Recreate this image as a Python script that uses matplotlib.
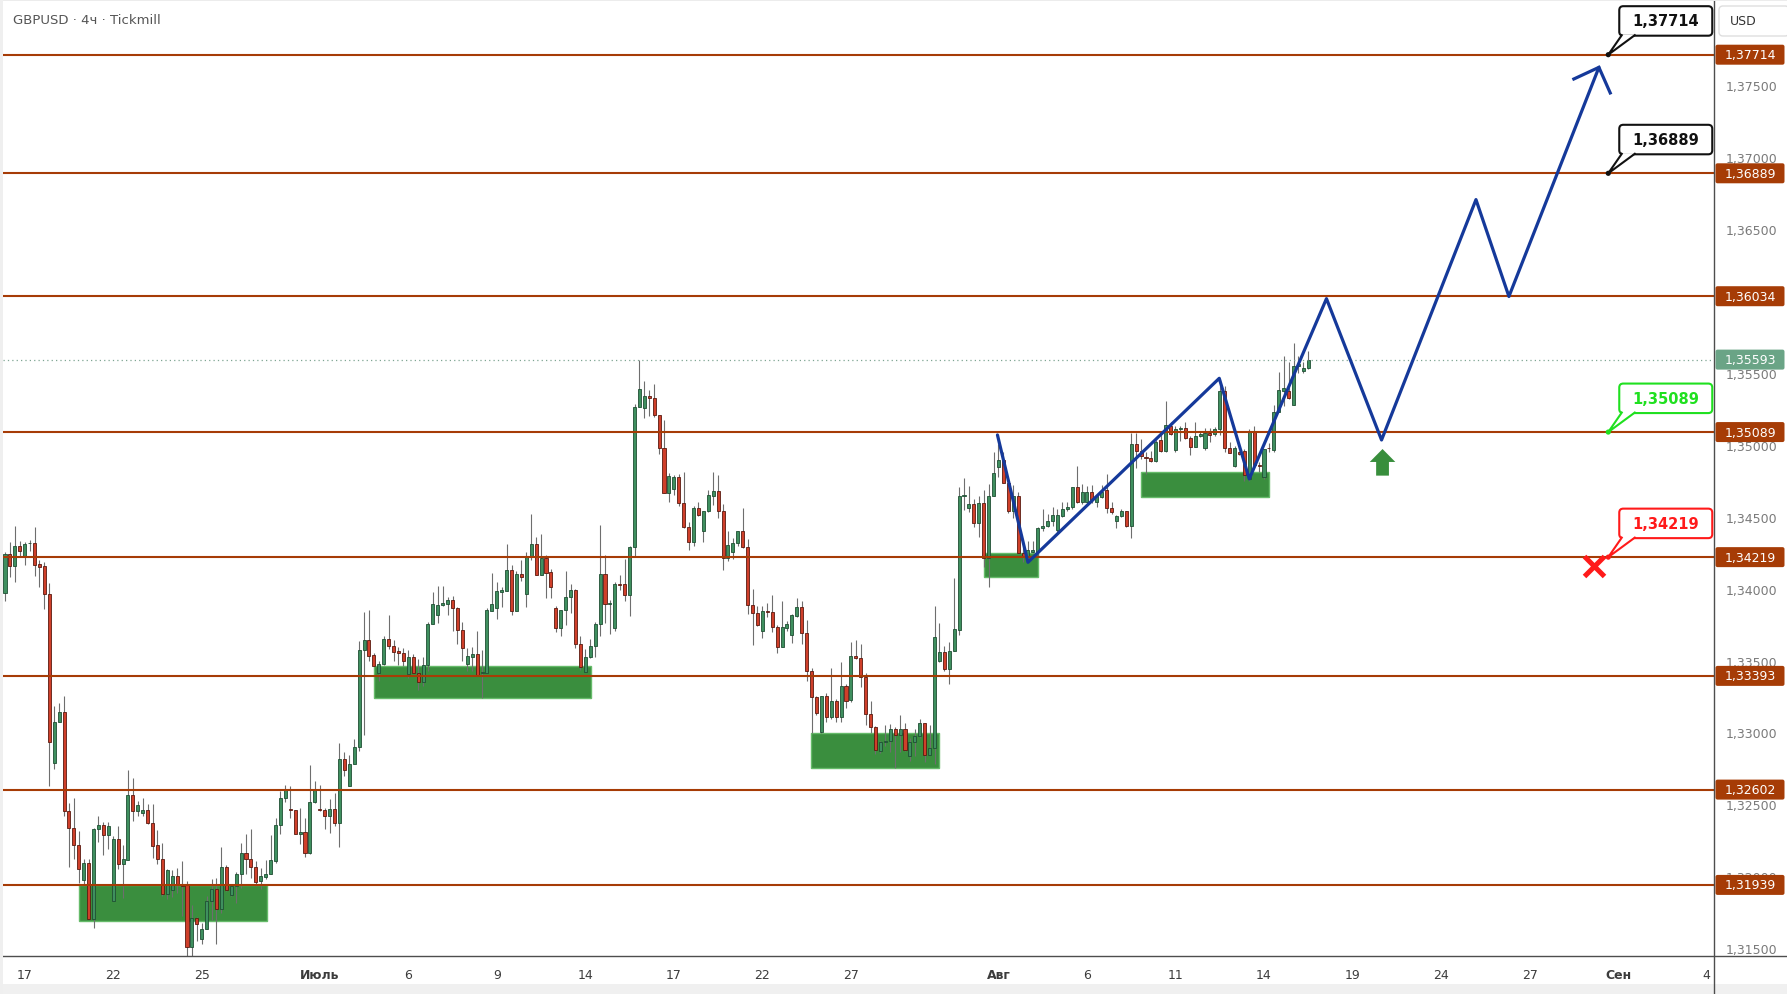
import matplotlib
matplotlib.use('Agg')
import matplotlib.pyplot as plt
from matplotlib.patches import Rectangle, FancyBboxPatch, Polygon, Circle
from matplotlib.transforms import IdentityTransform
from matplotlib.lines import Line2D

TITLE = 'GBPUSD · 4ч · Tickmill'

OPEN = [1.33973, 1.34240, 1.34159, 1.34294, 1.34224, 1.34314, 1.34317, 1.34171, 1.34154, 1.33966,
        1.32790, 1.33069, 1.33145, 1.32454, 1.32338, 1.32220, 1.31976, 1.32094, 1.31704, 1.32331,
        1.32359, 1.32289, 1.31830, 1.32257, 1.32087, 1.32115, 1.32563, 1.32456, 1.32442, 1.32458,
        1.32373, 1.32215, 1.32122, 1.31878, 1.31902, 1.31999, 1.31939, 1.31936, 1.31510, 1.31711,
        1.31561, 1.31635, 1.31830, 1.31913, 1.31774, 1.32066, 1.31867, 1.31932, 1.32018, 1.32164,
        1.32117, 1.32064, 1.31967, 1.31994, 1.32013, 1.32106, 1.32354, 1.32547, 1.32468, 1.32458,
        1.32296, 1.32310, 1.32164, 1.32519, 1.32468, 1.32463, 1.32421, 1.32470, 1.32373, 1.32818,
        1.32628, 1.32779, 1.32895, 1.33572, 1.33646, 1.33537, 1.33410, 1.33479, 1.33653, 1.33602,
        1.33563, 1.33549, 1.33405, 1.33521, 1.33414, 1.33347, 1.33472, 1.33751, 1.33818, 1.33883,
        1.33895, 1.33918, 1.33862, 1.33714, 1.33477, 1.33526, 1.33542, 1.33410, 1.33414, 1.33846,
        1.33862, 1.33978, 1.33985, 1.34129, 1.33846, 1.34099, 1.33964, 1.34224, 1.34310, 1.34096,
        1.34210, 1.34113, 1.33862, 1.33728, 1.33848, 1.33939, 1.33990, 1.33618, 1.33417, 1.33521,
        1.33598, 1.33751, 1.34099, 1.33892, 1.33723, 1.34029, 1.34029, 1.33957, 1.34287, 1.35261,
        1.35254, 1.35338, 1.35324, 1.35210, 1.34976, 1.34662, 1.34693, 1.34774, 1.34593, 1.34430,
        1.34321, 1.34558, 1.34403, 1.34537, 1.34646, 1.34676, 1.34542, 1.34210, 1.34252, 1.34315,
        1.34403, 1.34292, 1.33888, 1.33828, 1.33707, 1.33846, 1.33839, 1.33734, 1.33595, 1.33727,
        1.33679, 1.33812, 1.33870, 1.33689, 1.33428, 1.33243, 1.33004, 1.33250, 1.33108, 1.33215,
        1.33104, 1.33324, 1.33227, 1.33533, 1.33514, 1.33382, 1.33131, 1.33034, 1.32871, 1.32934,
        1.32941, 1.33026, 1.32982, 1.33021, 1.32834, 1.32930, 1.32976, 1.33064, 1.32844, 1.32888,
        1.33499, 1.33557, 1.33441, 1.33564, 1.33714, 1.34646, 1.34559, 1.34587, 1.34459, 1.34594,
        1.34211, 1.34646, 1.34848, 1.34897, 1.34733, 1.34538, 1.34642, 1.34250, 1.34218, 1.34255,
        1.34257, 1.34419, 1.34435, 1.34467, 1.34409, 1.34507, 1.34551, 1.34565, 1.34704, 1.34600,
        1.34600, 1.34669, 1.34600, 1.34639, 1.34688, 1.34558, 1.34467, 1.34502, 1.34537, 1.34433,
        1.35003, 1.34959, 1.34913, 1.34906, 1.34885, 1.35033, 1.34959, 1.35133, 1.34966, 1.35110,
        1.35115, 1.35047, 1.34987, 1.35059, 1.34975, 1.35080, 1.35073, 1.35110, 1.35377, 1.34975,
        1.34855, 1.34952, 1.34955, 1.34762, 1.35087, 1.34859, 1.34774, 1.34978, 1.34966, 1.35226,
        1.35377, 1.35377, 1.35275, 1.35546, 1.35516, 1.35532]
HIGH = [1.34252, 1.34321, 1.34437, 1.34333, 1.34326, 1.34340, 1.34430, 1.34198, 1.34187, 1.34038,
        1.33185, 1.33203, 1.33254, 1.32507, 1.32542, 1.32312, 1.32117, 1.32117, 1.32338, 1.32419,
        1.32377, 1.32377, 1.32280, 1.32349, 1.32215, 1.32737, 1.32681, 1.32526, 1.32542, 1.32502,
        1.32502, 1.32319, 1.32229, 1.32048, 1.32041, 1.32057, 1.32106, 1.31967, 1.31797, 1.31718,
        1.31677, 1.31862, 1.31978, 1.31990, 1.32203, 1.32078, 1.31944, 1.32029, 1.32233, 1.32294,
        1.32326, 1.32106, 1.32059, 1.32110, 1.32284, 1.32407, 1.32593, 1.32635, 1.32628, 1.32458,
        1.32477, 1.32403, 1.32772, 1.32663, 1.32632, 1.32477, 1.32535, 1.32577, 1.32925, 1.32864,
        1.32841, 1.32953, 1.33637, 1.33839, 1.33850, 1.33549, 1.33498, 1.33672, 1.33816, 1.33642,
        1.33591, 1.33586, 1.33572, 1.33544, 1.33509, 1.33526, 1.33765, 1.33978, 1.34015, 1.34015,
        1.33939, 1.33948, 1.33874, 1.33765, 1.33586, 1.33593, 1.33707, 1.33572, 1.33864, 1.34108,
        1.34048, 1.34008, 1.34310, 1.34164, 1.34124, 1.34198, 1.34256, 1.34519, 1.34361, 1.34379,
        1.34233, 1.34136, 1.33876, 1.33850, 1.34124, 1.34031, 1.33997, 1.33672, 1.33579, 1.33649,
        1.33765, 1.34442, 1.34233, 1.33922, 1.34043, 1.34094, 1.34205, 1.34298, 1.35284, 1.35590,
        1.35442, 1.35382, 1.35423, 1.35210, 1.35173, 1.34804, 1.34790, 1.34797, 1.34809, 1.34465,
        1.34577, 1.34600, 1.34537, 1.34686, 1.34809, 1.34790, 1.34589, 1.34398, 1.34350, 1.34403,
        1.34561, 1.34345, 1.33997, 1.33881, 1.33881, 1.33899, 1.33955, 1.33749, 1.33911, 1.33772,
        1.33823, 1.33934, 1.33913, 1.33782, 1.33451, 1.33254, 1.33250, 1.33273, 1.33447, 1.33231,
        1.33493, 1.33336, 1.33632, 1.33642, 1.33614, 1.33412, 1.33215, 1.33045, 1.32941, 1.33051,
        1.33057, 1.33035, 1.33120, 1.33062, 1.32958, 1.33021, 1.33096, 1.33064, 1.33051, 1.33881,
        1.33761, 1.33599, 1.33627, 1.34072, 1.34705, 1.34767, 1.34716, 1.34623, 1.34646, 1.34686,
        1.34728, 1.34948, 1.35006, 1.34950, 1.34750, 1.34721, 1.34670, 1.34290, 1.34333, 1.34333,
        1.34427, 1.34553, 1.34518, 1.34565, 1.34553, 1.34604, 1.34600, 1.34709, 1.34855, 1.34727,
        1.34716, 1.34720, 1.34658, 1.34720, 1.34795, 1.34600, 1.34511, 1.34553, 1.34542, 1.35082,
        1.35082, 1.35040, 1.34948, 1.34959, 1.35033, 1.35098, 1.35307, 1.35156, 1.35133, 1.35133,
        1.35161, 1.35064, 1.35156, 1.35091, 1.35117, 1.35117, 1.35122, 1.35458, 1.35407, 1.35017,
        1.34989, 1.34959, 1.34971, 1.35110, 1.35129, 1.34878, 1.34971, 1.35010, 1.35277, 1.35509,
        1.35620, 1.35574, 1.35709, 1.35620, 1.35574, 1.35655]
LOW = [1.33915, 1.34082, 1.34043, 1.34229, 1.34166, 1.34259, 1.34089, 1.34008, 1.33857, 1.32628,
       1.32748, 1.33069, 1.32419, 1.32064, 1.32122, 1.31955, 1.31932, 1.31704, 1.31642, 1.32238,
       1.32150, 1.32192, 1.31830, 1.32052, 1.31848, 1.32115, 1.32384, 1.32419, 1.32419, 1.32361,
       1.32129, 1.32083, 1.31862, 1.31839, 1.31855, 1.31885, 1.31723, 1.31445, 1.31445, 1.31549,
       1.31526, 1.31630, 1.31693, 1.31530, 1.31746, 1.31897, 1.31862, 1.31816, 1.31920, 1.32018,
       1.31990, 1.31932, 1.31909, 1.31978, 1.32013, 1.32094, 1.32296, 1.32516, 1.32407, 1.32296,
       1.32222, 1.32134, 1.32152, 1.32507, 1.32454, 1.32326, 1.32303, 1.32349, 1.32203, 1.32697,
       1.32628, 1.32779, 1.32871, 1.32983, 1.33498, 1.33463, 1.33359, 1.33470, 1.33579, 1.33498,
       1.33470, 1.33463, 1.33377, 1.33410, 1.33296, 1.33324, 1.33428, 1.33751, 1.33758, 1.33881,
       1.33816, 1.33702, 1.33618, 1.33496, 1.33428, 1.33428, 1.33393, 1.33236, 1.33414, 1.33846,
       1.33788, 1.33874, 1.33985, 1.33818, 1.33846, 1.34055, 1.33869, 1.34198, 1.34096, 1.34096,
       1.33932, 1.33936, 1.33695, 1.33672, 1.33748, 1.33827, 1.33584, 1.33433, 1.33417, 1.33516,
       1.33521, 1.33672, 1.33760, 1.33683, 1.33707, 1.33992, 1.33915, 1.33811, 1.34229, 1.35261,
       1.35184, 1.35203, 1.35196, 1.34936, 1.34662, 1.34604, 1.34653, 1.34577, 1.34424, 1.34271,
       1.34294, 1.34507, 1.34321, 1.34530, 1.34584, 1.34493, 1.34132, 1.34194, 1.34206, 1.34299,
       1.34280, 1.33823, 1.33609, 1.33742, 1.33656, 1.33805, 1.33700, 1.33551, 1.33595, 1.33707,
       1.33621, 1.33805, 1.33614, 1.33359, 1.32999, 1.33122, 1.32999, 1.33073, 1.33092, 1.33069,
       1.33069, 1.33173, 1.33208, 1.33509, 1.33317, 1.33052, 1.32999, 1.32848, 1.32860, 1.32906,
       1.32864, 1.32750, 1.32864, 1.32868, 1.32803, 1.32834, 1.32958, 1.32796, 1.32844, 1.32779,
       1.33492, 1.33429, 1.33336, 1.33564, 1.33677, 1.34549, 1.34535, 1.34431, 1.34361, 1.34153,
       1.34013, 1.34646, 1.34774, 1.34733, 1.34526, 1.34491, 1.34250, 1.34185, 1.34185, 1.34250,
       1.34229, 1.34402, 1.34426, 1.34437, 1.34395, 1.34495, 1.34542, 1.34553, 1.34595, 1.34588,
       1.34595, 1.34595, 1.34565, 1.34627, 1.34525, 1.34518, 1.34421, 1.34495, 1.34430, 1.34349,
       1.34836, 1.34901, 1.34797, 1.34878, 1.34878, 1.34952, 1.34948, 1.35068, 1.34952, 1.35029,
       1.35040, 1.34929, 1.34982, 1.35052, 1.34966, 1.35022, 1.35064, 1.35068, 1.34952, 1.34941,
       1.34848, 1.34931, 1.34750, 1.34750, 1.34850, 1.34808, 1.34762, 1.34948, 1.34948, 1.35226,
       1.35272, 1.35319, 1.35275, 1.35500, 1.35497, 1.35527]
CLOSE = [1.34240, 1.34159, 1.34294, 1.34259, 1.34310, 1.34317, 1.34166, 1.34152, 1.33966, 1.32936,
         1.33069, 1.33145, 1.32454, 1.32338, 1.32220, 1.32048, 1.32094, 1.31704, 1.32331, 1.32359,
         1.32289, 1.32352, 1.32257, 1.32087, 1.32117, 1.32563, 1.32456, 1.32493, 1.32458, 1.32373,
         1.32210, 1.32122, 1.31878, 1.32041, 1.31999, 1.31936, 1.31932, 1.31510, 1.31711, 1.31670,
         1.31635, 1.31830, 1.31913, 1.31774, 1.32066, 1.31902, 1.31932, 1.32018, 1.32164, 1.32117,
         1.32064, 1.31960, 1.31999, 1.32013, 1.32110, 1.32354, 1.32547, 1.32598, 1.32461, 1.32296,
         1.32310, 1.32164, 1.32519, 1.32605, 1.32461, 1.32421, 1.32470, 1.32373, 1.32818, 1.32739,
         1.32783, 1.32895, 1.33572, 1.33646, 1.33533, 1.33463, 1.33479, 1.33653, 1.33602, 1.33560,
         1.33549, 1.33498, 1.33521, 1.33414, 1.33347, 1.33472, 1.33751, 1.33890, 1.33883, 1.33897,
         1.33918, 1.33862, 1.33714, 1.33584, 1.33528, 1.33542, 1.33398, 1.33419, 1.33848, 1.33890,
         1.33980, 1.33990, 1.34129, 1.33846, 1.34099, 1.34082, 1.34224, 1.34310, 1.34096, 1.34210,
         1.34110, 1.34008, 1.33728, 1.33848, 1.33939, 1.33990, 1.33618, 1.33456, 1.33521, 1.33598,
         1.33751, 1.34099, 1.33890, 1.33897, 1.34029, 1.34024, 1.33957, 1.34287, 1.35261, 1.35386,
         1.35338, 1.35324, 1.35210, 1.34976, 1.34662, 1.34781, 1.34774, 1.34593, 1.34430, 1.34321,
         1.34558, 1.34514, 1.34537, 1.34651, 1.34676, 1.34542, 1.34210, 1.34305, 1.34315, 1.34403,
         1.34292, 1.33888, 1.33828, 1.33746, 1.33846, 1.33839, 1.33734, 1.33595, 1.33730, 1.33751,
         1.33814, 1.33870, 1.33689, 1.33428, 1.33243, 1.33138, 1.33250, 1.33108, 1.33215, 1.33104,
         1.33324, 1.33220, 1.33533, 1.33514, 1.33382, 1.33131, 1.33034, 1.32878, 1.32934, 1.32941,
         1.33026, 1.32982, 1.33021, 1.32878, 1.32930, 1.32976, 1.33064, 1.32844, 1.32888, 1.33660,
         1.33557, 1.33441, 1.33564, 1.33717, 1.34646, 1.34650, 1.34587, 1.34459, 1.34594, 1.34211,
         1.34646, 1.34802, 1.34897, 1.34733, 1.34538, 1.34642, 1.34250, 1.34218, 1.34269, 1.34269,
         1.34420, 1.34435, 1.34467, 1.34514, 1.34511, 1.34553, 1.34565, 1.34704, 1.34600, 1.34669,
         1.34669, 1.34618, 1.34646, 1.34669, 1.34558, 1.34530, 1.34502, 1.34537, 1.34433, 1.35003,
         1.34959, 1.34920, 1.34906, 1.34885, 1.35017, 1.34959, 1.35140, 1.35073, 1.35110, 1.35115,
         1.35047, 1.34987, 1.35061, 1.35073, 1.35080, 1.35071, 1.35110, 1.35377, 1.34975, 1.34945,
         1.34978, 1.34936, 1.34790, 1.35087, 1.34859, 1.34855, 1.34971, 1.34975, 1.35226, 1.35381,
         1.35393, 1.35323, 1.35546, 1.35560, 1.35532, 1.35593]

LEVELS = [1.37714, 1.36889, 1.36034, 1.35089, 1.34219, 1.33393, 1.32602, 1.31939]
LAST_PRICE = 1.35593

# demand zones: (start bar, end bar, bottom price, top price)
ZONE_X0 = [15.1, 75.1, 163.9, 199.1, 231.0]
ZONE_X1 = [53.2, 119.1, 190.0, 210.1, 257.1]
ZONE_LO = [1.31691, 1.33241, 1.32751, 1.34079, 1.34634]
ZONE_HI = [1.31939, 1.33459, 1.32999, 1.34250, 1.34808]

# projected path
PATH_X = [201.8, 208.0, 246.9, 253.0, 268.7, 279.9, 299.1, 305.8, 324.1]
PATH_Y = [1.35069, 1.34183, 1.35463, 1.34763, 1.36017, 1.35034, 1.36706, 1.36032, 1.37626]
HEAD_X = [319.0, 324.1, 326.4]
HEAD_Y = [1.37545, 1.37626, 1.37448]

UP_ARROW_X = 280.1
UP_ARROW_BASE = 1.34786
UP_ARROW_TIP = 1.34971
CROSS_X = 323.0
CROSS_Y = 1.34160

CALLOUT_X = 326.0
CALLOUT_LEVELS = [1.37714, 1.36889, 1.35089, 1.34219]
CALLOUT_COLORS = ['#111111', '#111111', '#1fe01f', '#ff1a1a']

XTICK_POS = [4, 22, 40, 64, 82, 100, 118, 136, 154, 172, 202, 220, 238, 256, 274, 292, 310, 328, 346]
XTICK_LABELS = ['17', '22', '25', 'Июль', '6', '9', '14', '17', '22', '27', 'Авг', '6', '11',
                '14', '19', '24', '27', 'Сен', '4']
MONTHS = ['Июль', 'Авг', 'Сен']
YTICKS = [1.315, 1.320, 1.325, 1.330, 1.335, 1.340, 1.345, 1.350, 1.355, 1.360, 1.365, 1.370, 1.375]
YTICK_HIDDEN = [1.360]   # fully covered by the 1,36034 price tag in the reference

W, H = 1787, 995
LEVEL_COLOR = '#a63c06'
UP_FILL, UP_EDGE = '#3f8f5f', '#1f4f33'
DN_FILL, DN_EDGE = '#cf3f2a', '#5a1a10'
WICK = '#6e6e6e'
ZONE_FILL, ZONE_EDGE = '#3a8e3e', '#66bb6a'
PATH_COLOR = '#15399a'

fig = plt.figure(figsize=(W / 100, H / 100), dpi=100)
fig.patch.set_facecolor('white')
ax = fig.add_axes([3 / W, 38 / H, (1714 - 3) / W, (957 - 2) / H])
ax.set_facecolor('white')
for s in ax.spines.values():
    s.set_visible(False)

ax.set_xlim(-0.41, 347.5)
ax.set_ylim(1.314445, 1.380875)

# zones
for x0, x1, lo, hi in zip(ZONE_X0, ZONE_X1, ZONE_LO, ZONE_HI):
    ax.add_patch(Rectangle((x0, lo), x1 - x0, hi - lo, facecolor=ZONE_FILL,
                           edgecolor=ZONE_EDGE, linewidth=1.0, zorder=1))

# candles
xs = list(range(len(CLOSE)))
ax.vlines(xs, LOW, HIGH, color=WICK, linewidth=0.8, zorder=2)
bottoms, heights, fills, edges = [], [], [], []
for o, c in zip(OPEN, CLOSE):
    bottoms.append(min(o, c))
    heights.append(max(abs(c - o), 0.00004))
    up = c >= o
    fills.append(UP_FILL if up else DN_FILL)
    edges.append(UP_EDGE if up else DN_EDGE)
ax.bar(xs, heights, bottom=bottoms, width=0.62, color=fills, edgecolor=edges,
       linewidth=0.6, zorder=3)

# levels
for lv in LEVELS:
    ax.axhline(lv, color=LEVEL_COLOR, linewidth=1.5, zorder=4)
ax.axhline(LAST_PRICE, color='#7fa593', linewidth=0.9, linestyle=(0, (1, 2.5)), zorder=4)

# path
ax.plot(PATH_X, PATH_Y, color=PATH_COLOR, linewidth=2.3, solid_joinstyle='round',
        solid_capstyle='round', zorder=6)
ax.plot(HEAD_X, HEAD_Y, color=PATH_COLOR, linewidth=2.3, solid_joinstyle='miter', zorder=6)

# green arrow & red cross
ax.arrow(UP_ARROW_X, UP_ARROW_BASE, 0, UP_ARROW_TIP - UP_ARROW_BASE, width=2.6,
         head_width=5.2, head_length=0.0009, length_includes_head=True,
         color='#388e3c', linewidth=0, zorder=6)
ax.plot([CROSS_X], [CROSS_Y], marker='x', markersize=14, markeredgewidth=3.6,
        color='#ff1a1a', zorder=7, linestyle='none')

# axes ticks
ax.set_xticks(XTICK_POS)
ax.set_xticklabels(XTICK_LABELS)
ax.tick_params(axis='x', length=0, pad=9, labelsize=9, labelcolor='#3c3c3c')
for t in ax.get_xticklabels():
    if t.get_text() in MONTHS:
        t.set_fontweight('bold')
ax.yaxis.tick_right()
ax.set_yticks(YTICKS)
ax.set_yticklabels(['' if any(abs(v - h) < 1e-9 for h in YTICK_HIDDEN)
                    else f'{v:.5f}'.replace('.', ',') for v in YTICKS])
ax.tick_params(axis='y', length=0, pad=8.5, labelsize=9, labelcolor='#7a7a7a')

# frame lines
ident = IdentityTransform()
fig.add_artist(Rectangle((0, 0), W, 10, transform=ident, facecolor='#f0f0f0',
                         edgecolor='none', zorder=-1))
fig.add_artist(Rectangle((0, H - 2), W, 2, transform=ident, facecolor='#ececec',
                         edgecolor='none', zorder=20))
fig.add_artist(Rectangle((0, 0), 3, H, transform=ident, facecolor='#efefef',
                         edgecolor='none', zorder=20))
fig.add_artist(Line2D([0, W], [H - 957, H - 957], transform=ident, color='#4d4d4d',
                      linewidth=1.0, zorder=5))
fig.add_artist(Line2D([1714, 1714], [0, H], transform=ident, color='#4d4d4d',
                      linewidth=1.0, zorder=5))

# price tags on the right axis
def price_tag(price, color):
    _, yd = ax.transData.transform((0, price))
    fig.add_artist(FancyBboxPatch((1715.5, yd - 10), 69, 20,
                                  boxstyle='round,pad=0,rounding_size=2', transform=ident,
                                  facecolor=color, edgecolor='none', zorder=8))
    fig.text(1750, yd, f'{price:.5f}'.replace('.', ','), transform=ident, ha='center',
             va='center', fontsize=9, color='white', zorder=9)

for lv in LEVELS:
    price_tag(lv, LEVEL_COLOR)
price_tag(LAST_PRICE, '#6aa486')

# callouts
def callout(level, color):
    dx, dy = ax.transData.transform((CALLOUT_X, level))
    bx0, by0, bw, bh = dx + 11, dy + 19, 93, 29.5
    fig.add_artist(FancyBboxPatch((bx0, by0), bw, bh, boxstyle='round,pad=0,rounding_size=4',
                                  transform=ident, facecolor='white', edgecolor=color,
                                  linewidth=1.5, zorder=10))
    tail = [(bx0 + 2.5, by0 + 1.2), (dx, dy), (bx0 + 15.5, by0 + 1.2)]
    fig.add_artist(Polygon(tail, closed=True, transform=ident, facecolor='white',
                           edgecolor='none', zorder=11))
    fig.add_artist(Line2D([bx0 + 2.5, dx, bx0 + 15.5], [by0 + 0.5, dy, by0 + 0.5],
                          transform=ident, color=color, linewidth=1.5, zorder=12))
    fig.add_artist(Circle((dx, dy), 2.6, transform=ident, facecolor=color,
                          edgecolor='none', zorder=13))
    fig.text(bx0 + bw / 2, by0 + bh / 2, f'{level:.5f}'.replace('.', ','), transform=ident,
             ha='center', va='center', fontsize=10.5, fontweight='bold', color=color, zorder=14)

for lv, col in zip(CALLOUT_LEVELS, CALLOUT_COLORS):
    callout(lv, col)

# USD box and title
fig.add_artist(FancyBboxPatch((1719, H - 37), 70, 30, boxstyle='round,pad=0,rounding_size=4',
                              transform=ident, facecolor='white', edgecolor='#dedede',
                              linewidth=1.0, zorder=8))
fig.text(1730, H - 22, 'USD', transform=ident, ha='left', va='center', fontsize=9,
         color='#333333', zorder=9)
fig.text(13, H - 21, TITLE, transform=ident, ha='left', va='center', fontsize=9.5,
         color='#555555', zorder=9)

fig.savefig('out.png', dpi=100)
